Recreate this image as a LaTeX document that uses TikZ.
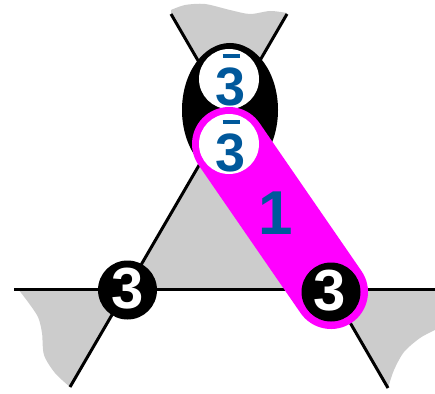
\documentclass[tikz,border=0pt]{standalone}
\usepackage{fontspec}
\setmainfont{Liberation Sans}
\usetikzlibrary{shapes.geometric}
\definecolor{greyfill}{RGB}{204,204,204}
\definecolor{labelblue}{RGB}{0,88,155}
\definecolor{mag}{RGB}{255,0,255}
\newcommand\barthree{\setbox0\hbox{3}\dimen0=\ht0 \advance\dimen0 by 10pt
  \setbox2\hbox to \wd0{\hss\raise\dimen0\hbox{\vrule width 17pt height 4pt depth 0pt}\hss}\ht2=0pt
  \box2\kern-\wd0\box0}
\begin{document}
\begin{tikzpicture}[x=1pt,y=-1pt,
  edge/.style={line width=3pt, black},
  greyarea/.style={fill=greyfill, draw=none},
  blackdisc/.style={circle, fill=black, minimum size=59pt, inner sep=0pt},
  whitedisc/.style={circle, fill=white, minimum size=60pt, inner sep=0pt},
  whitenum/.style={text=white, font=\fontsize{58}{58}\selectfont\bfseries, inner sep=0pt},
  bluenum/.style={text=labelblue, font=\fontsize{54}{54}\selectfont\bfseries, inner sep=0pt},
  band/.style={line width=74pt, line cap=round, mag}]
\useasboundingbox (0,0) rectangle (435,393);
% line end points
\coordinate (tl) at (171,14);
\coordinate (br) at (388,388);
\coordinate (tr) at (287,14);
\coordinate (bl) at (70,387);
\coordinate (hl) at (14,289);
\coordinate (hr) at (435,289);
\coordinate (cross) at (229,114);
\coordinate (lc) at (127,289);
\coordinate (rc) at (331,289);
% grey areas
\fill[greyarea] (tl) -- (cross) -- (tr)
  -- plot[smooth] coordinates {(287,13) (270,11) (250,14) (230,10) (205,4) (185,5) (171,10)} -- cycle;
\fill[greyarea] (cross) -- (lc) -- (rc) -- cycle;
\fill[greyarea] (lc) -- (bl)
  -- plot[smooth] coordinates {(70,387) (55,373) (44,355) (42,333) (38,317) (28,302) (18,289)} -- cycle;
\fill[greyarea] (rc) -- (hr) -- (435,330)
  -- plot[smooth] coordinates {(435,330) (420,338) (404,352) (394,370) (388,388)} -- cycle;
% lines
\draw[edge] (tl) -- (br);
\draw[edge] (tr) -- (bl);
\draw[edge] (hl) -- (hr);
% black ellipse
\node[ellipse, fill=black, minimum width=96pt, minimum height=134pt, inner sep=0pt] (ell) at (230,110) {};
% top circle
\node[whitedisc] (tb) at (229,79) {};
% magenta band between lower bar-three and right three
\coordinate (lbc) at (229,144);
\coordinate (r3c) at (331,292);
\draw[band] (lbc) -- (r3c);
\node[whitedisc] (lb) at (lbc) {};
\node[blackdisc] (r3) at (r3c) {};
\node[blackdisc] (l3) at (127.5,290) {};
% labels
\node[bluenum] (tbl) at (231,87) {\barthree};
\node[bluenum] (lbl) at (231,153) {\barthree};
\node[whitenum] (r3l) at (330,291) {3};
\node[whitenum] (l3l) at (128,289) {3};
\node[text=labelblue, font=\fontsize{62}{62}\selectfont\bfseries, inner sep=0pt] (one) at (276,213) {1};
\end{tikzpicture}
\end{document}
